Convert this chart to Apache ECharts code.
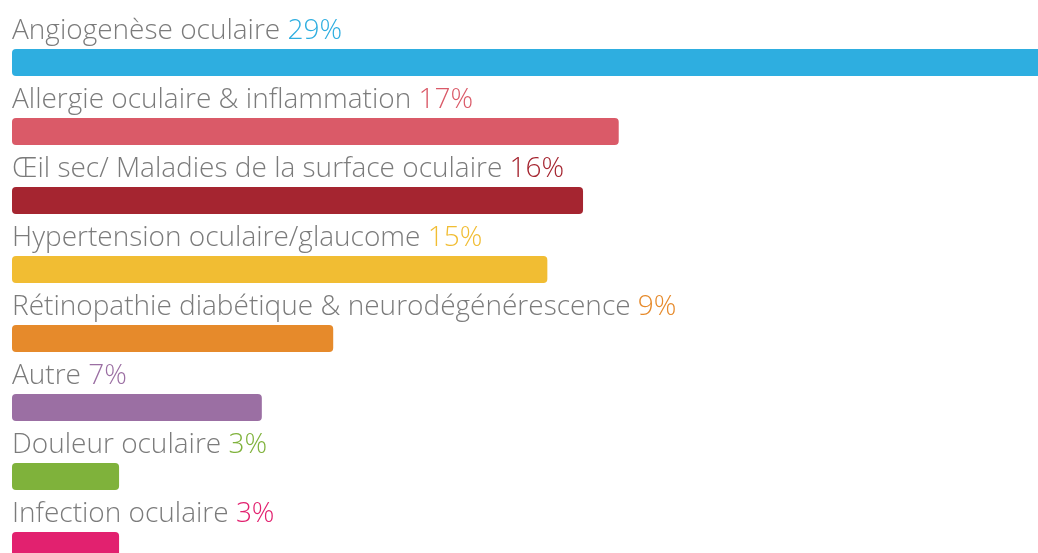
<!DOCTYPE html>
<html>
<head>
<meta charset="UTF-8">
<title>Domaines thérapeutiques</title>
<script src="https://cdn.jsdelivr.net/npm/echarts@6/dist/echarts.min.js"></script>
<style>
	html, body { margin: 0; padding: 0; background: #fff; }
</style>
</head>
<body>
	<div id='chart' style='width: 1038px; height: 553px;'></div>
	<script>
	// données
	var categories = ['Angiogenèse oculaire', 'Allergie oculaire & inflammation', 'Œil sec/ Maladies de la surface oculaire',
		'Hypertension oculaire/glaucome', 'Rétinopathie diabétique & neurodégénérescence', 'Autre',
		'Douleur oculaire', 'Infection oculaire'];
	var values = [29, 17, 16, 15, 9, 7, 3, 3];
	var colors = ['#2eaee0', '#da5a68', '#a52530', '#f1bd33', '#e68a2b', '#9b6fa3', '#7fb23b', '#e2216f'];

	var chart = echarts.init(document.getElementById('chart'));

	// un style "rich" par couleur pour le pourcentage
	var rich = { n: { color: '#7b7b7b', fontSize: 28, fontFamily: 'Open Sans', fontWeight: 300 } };
	colors.forEach(function(c, i){
		rich['p' + i] = { color: c, fontSize: 28, fontFamily: 'Open Sans', fontWeight: 300 };
	});

	var option = {
		animation: false,
		grid: {
			left: 12,
			top: 28,
			width: 1035,
			height: 552,
			outerBoundsMode: 'none'
		},
		xAxis: {
			type: 'value',
			min: 0,
			max: 29,
			show: false
		},
		yAxis: {
			type: 'category',
			data: categories,
			inverse: true,
			show: false
		},
		series: [{
			type: 'bar',
			barWidth: 27,
			data: values.map(function(v, i){
				return { value: v, itemStyle: { color: colors[i] } };
			}),
			itemStyle: { borderRadius: 4 },
			label: {
				show: true,
				position: [0, -4],
				verticalAlign: 'bottom',
				align: 'left',
				rich: rich,
				formatter: function(p){
					return '{n|' + p.name + ' }{p' + p.dataIndex + '|' + p.value + '%}';
				}
			}
		}]
	};
	chart.setOption(option);
	</script>
</body>
</html>
